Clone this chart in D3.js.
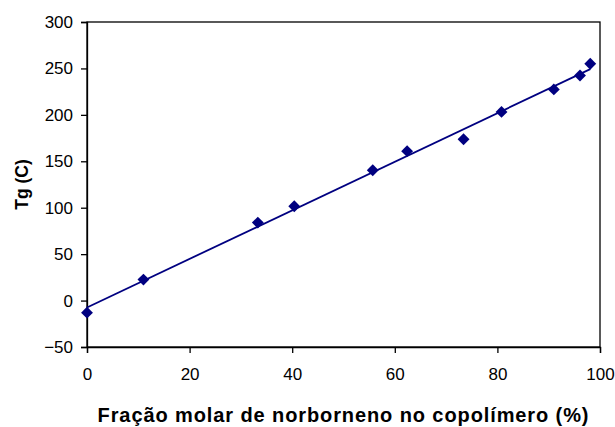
<!DOCTYPE html>
<html>
<head>
<meta charset="utf-8">
<script src="https://cdn.jsdelivr.net/npm/d3@7"></script>
<style>
  body { margin: 0; background: #fff; }
  svg text { font-family: "Liberation Sans", Arial, sans-serif; }
</style>
</head>
<body>
<svg class="chart" width="615" height="427"></svg>
<script>
// fracao molar de norborneno (%) e Tg (C)
const fracao = [0, 11, 33.3, 40.4, 55.7, 62.4, 73.4, 80.8, 91, 96.1, 98.1]
const tg = [-13, 22.6, 84, 101.6, 140.4, 160.9, 173.8, 203.2, 227.4, 242.4, 255]
const xTicks = [0, 20, 40, 60, 80, 100]
const yTicks = [-50, 0, 50, 100, 150, 200, 250, 300]

const svg = d3.select("svg.chart")

const margin = {left: 87, right: 15, top: 22, bottom: 80}
const width = 615 - margin.left - margin.right
const height = 427 - margin.top - margin.bottom

const x = d3.scaleLinear().domain([0, 100]).range([margin.left, margin.left + width])
const y = d3.scaleLinear().domain([-50, 300]).range([margin.top + height, margin.top])

// moldura da area do grafico
svg.append("rect")
    .attr("x", x(0))
    .attr("y", y(300))
    .attr("width", x(100) - x(0))
    .attr("height", y(-50) - y(300))
    .attr("fill", "none")
    .attr("stroke", "#000")
    .attr("stroke-width", 1.3)

const xAxis = svg.append("g")
    .attr("transform", `translate(0,${y(-50)})`)
    .call(d3.axisBottom(x).tickValues(xTicks).tickSize(6).tickPadding(15))
const yAxis = svg.append("g")
    .attr("transform", `translate(${x(0)},0)`)
    .call(d3.axisLeft(y).tickValues(yTicks).tickSize(6).tickPadding(8))

for (const ax of [xAxis, yAxis]) {
    ax.select(".domain").attr("stroke-width", 1.3)
    ax.selectAll(".tick line").attr("stroke-width", 1.3)
    ax.selectAll(".tick text")
        .attr("fill", "#000")
        .style("font-size", "17px")
}

// linha de tendencia (minimos quadrados)
const mx = d3.mean(fracao), my = d3.mean(tg)
const slope = d3.sum(fracao, (v, i) => (v - mx) * (tg[i] - my)) / d3.sum(fracao, v => (v - mx) ** 2)
const intercept = my - slope * mx
const xr = d3.extent(fracao)

svg.append("line")
    .attr("x1", x(xr[0]))
    .attr("y1", y(intercept + slope * xr[0]))
    .attr("x2", x(xr[1]))
    .attr("y2", y(intercept + slope * xr[1]))
    .attr("stroke", "#000080")
    .attr("stroke-width", 1.8)

svg.append("g")
    .selectAll("path")
    .data(fracao)
    .enter()
    .append("path")
    .attr("transform", (d, i) => `translate(${x(d)},${y(tg[i])}) rotate(45)`)
    .attr("d", "M-4.2,-4.2H4.2V4.2H-4.2Z")
    .attr("fill", "#000080")

svg.append("text")
    .attr("x", (x(0) + x(100)) / 2)
    .attr("y", 421.5)
    .attr("text-anchor", "middle")
    .style("font-size", "20px")
    .style("font-weight", "bold")
    .style("letter-spacing", "0.9px")
    .text("Fração molar de norborneno no copolímero (%)")

svg.append("text")
    .attr("transform", `translate(28,${(y(-50) + y(300)) / 2}) rotate(-90)`)
    .attr("text-anchor", "middle")
    .style("font-size", "17.5px")
    .style("font-weight", "bold")
    .text("Tg (C)")
</script>
</body>
</html>
